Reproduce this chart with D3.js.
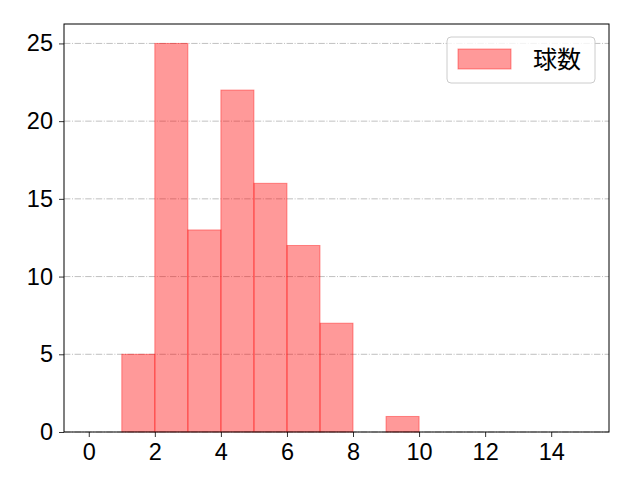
<!DOCTYPE html>
<html>
<head>
<meta charset="utf-8">
<script src="https://cdn.jsdelivr.net/npm/d3@7"></script>
<style>
  body { margin: 0; background: #fff; }
  svg text { font-family: "Liberation Sans", "Noto Sans CJK JP", sans-serif; }
</style>
</head>
<body>
<div id="chart"></div>
<script>
// histogram bins (left edges) and counts
const binStarts = [0, 1, 2, 3, 4, 5, 6, 7, 8, 9, 10, 11, 12, 13, 14];
const counts = [0, 5, 25, 13, 22, 16, 12, 7, 0, 1, 0, 0, 0, 0, 0];
const xTicks = [0, 2, 4, 6, 8, 10, 12, 14];
const yTicks = [0, 5, 10, 15, 20, 25];
const seriesName = '球数';

const width = 640, height = 480;
const margin = { top: 24, right: 31, bottom: 48, left: 64 };
const w = width - margin.left - margin.right;
const h = height - margin.top - margin.bottom;
const fontSize = 23.5;

const svg = d3.select('#chart').append('svg')
    .attr('width', width)
    .attr('height', height);

const plot = svg.append('g')
    .attr('transform', `translate(${margin.left},${margin.top})`);

// same 5% padding matplotlib puts round the data
const x = d3.scaleLinear().domain([-0.75, 15.75]).range([0, w]);
const y = d3.scaleLinear().domain([0, 26.25]).range([h, 0]);

// horizontal dash-dot grid behind the bars
plot.append('g')
    .selectAll('line')
    .data(yTicks)
    .join('line')
    .attr('x1', 0)
    .attr('x2', w)
    .attr('y1', d => y(d))
    .attr('y2', d => y(d))
    .attr('stroke', '#b0b0b0')
    .attr('stroke-width', 0.8)
    .attr('stroke-dasharray', '6.4,1.6,1,1.6');

// bars
plot.append('g')
    .selectAll('rect')
    .data(binStarts.map((b, i) => ({ x0: b, x1: b + 1, n: counts[i] })))
    .join('rect')
    .attr('x', d => x(d.x0))
    .attr('width', d => x(d.x1) - x(d.x0))
    .attr('y', d => y(d.n))
    .attr('height', d => y(0) - y(d.n))
    .attr('fill', 'red')
    .attr('fill-opacity', 0.4)
    .attr('stroke', 'red')
    .attr('stroke-opacity', 0.4)
    .attr('stroke-width', 1);

// axes
const xAxis = plot.append('g')
    .attr('transform', `translate(0,${h})`)
    .call(d3.axisBottom(x).tickValues(xTicks).tickSize(5).tickPadding(6).tickSizeOuter(0));
const yAxis = plot.append('g')
    .call(d3.axisLeft(y).tickValues(yTicks).tickSize(5).tickPadding(6).tickSizeOuter(0));

[xAxis, yAxis].forEach(a => {
    a.select('.domain').remove();
    a.selectAll('line').attr('stroke', '#000').attr('stroke-width', 0.8);
    a.selectAll('text').attr('font-size', fontSize).attr('fill', '#000')
        .style('font-family', '"Liberation Sans", sans-serif');
});

// frame
plot.append('rect')
    .attr('width', w)
    .attr('height', h)
    .attr('fill', 'none')
    .attr('stroke', '#000')
    .attr('stroke-width', 1);

// legend
const legend = plot.append('g')
    .attr('transform', `translate(${447 - margin.left},${37 - margin.top})`);
legend.append('rect')
    .attr('width', 148)
    .attr('height', 46)
    .attr('rx', 4)
    .attr('fill', '#fff')
    .attr('fill-opacity', 0.8)
    .attr('stroke', '#cccccc')
    .attr('stroke-width', 1);
legend.append('rect')
    .attr('x', 11)
    .attr('y', 12)
    .attr('width', 53)
    .attr('height', 20)
    .attr('fill', 'red')
    .attr('fill-opacity', 0.4)
    .attr('stroke', 'red')
    .attr('stroke-opacity', 0.4);
legend.append('text')
    .attr('x', 86)
    .attr('y', 23)
    .attr('dy', '0.35em')
    .attr('font-size', 24)
    .style('font-family', '"Noto Sans CJK JP", sans-serif')
    .text(seriesName);
</script>
</body>
</html>
